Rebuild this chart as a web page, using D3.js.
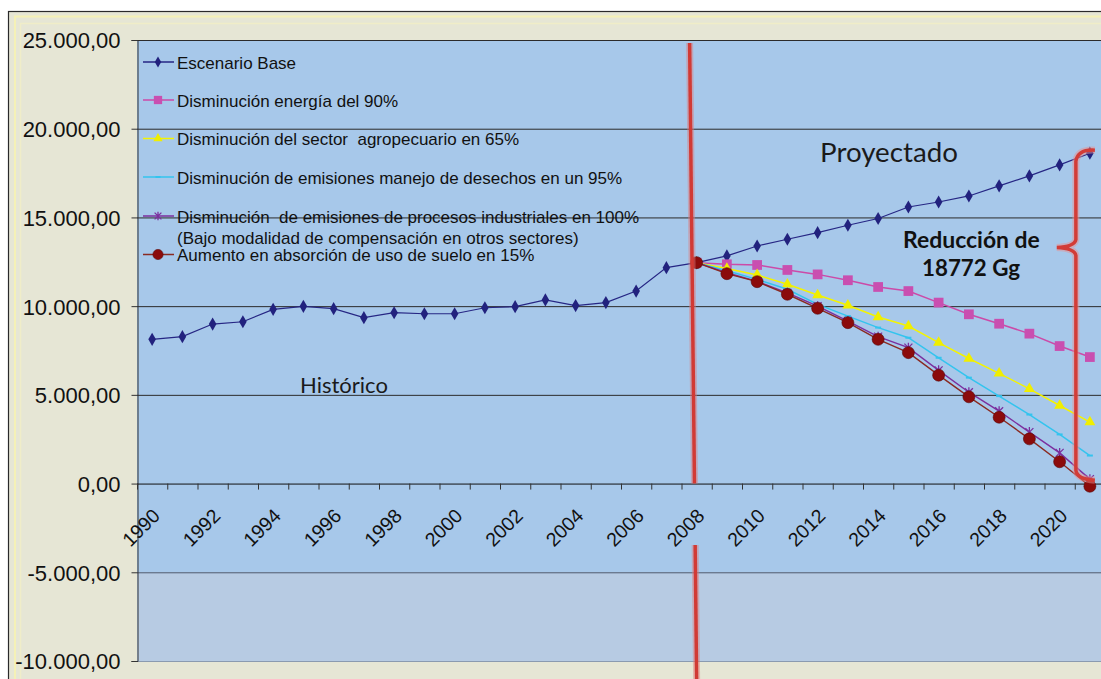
<!DOCTYPE html>
<html><head><meta charset="utf-8">
<script src="https://cdn.jsdelivr.net/npm/d3@7"></script>
<style>body{margin:0;background:#fff}svg{display:block}text{white-space:pre}</style>
</head><body><svg id="c" width="1101" height="679"></svg>
<script>
// ---------- DATA ----------
const years = [1990,1991,1992,1993,1994,1995,1996,1997,1998,1999,2000,2001,2002,2003,2004,2005,2006,2007,2008,2009,2010,2011,2012,2013,2014,2015,2016,2017,2018,2019,2020,2021];
const projYears = [2008,2009,2010,2011,2012,2013,2014,2015,2016,2017,2018,2019,2020,2021];
const escenarioBase = [8130,8280,8990,9120,9820,9990,9860,9350,9630,9570,9570,9910,9970,10350,10030,10200,10850,12170,12450,12830,13390,13770,14140,14560,14940,15590,15870,16210,16780,17340,17960,18620];
const energia90 = [12450,12360,12320,12040,11790,11460,11080,10850,10200,9540,9010,8450,7750,7130];
const agropecuario65 = [12450,12120,11760,11230,10630,10050,9390,8880,7940,7050,6210,5340,4400,3460];
const desechos95 = [12450,12000,11510,10950,10100,9440,8790,8220,7090,5970,4930,3890,2770,1580];
const industriales100 = [12450,11880,11400,10750,10000,9160,8280,7660,6380,5150,4080,2900,1730,250];
const absorcionSuelo15 = [12450,11830,11380,10670,9880,9070,8130,7380,6110,4890,3740,2520,1230,-150];
const yTicks = [-10000,-5000,0,5000,10000,15000,20000,25000];
const xTickLabels = [1990,1992,1994,1996,1998,2000,2002,2004,2006,2008,2010,2012,2014,2016,2018,2020];
const legendLabels = [
  ["Escenario Base"],
  ["Disminución energía del 90%"],
  ["Disminución del sector  agropecuario en 65%"],
  ["Disminución de emisiones manejo de desechos en un 95%"],
  ["Disminución  de emisiones de procesos industriales en 100%","(Bajo modalidad de compensación en otros sectores)"],
  ["Aumento en absorción de uso de suelo en 15%"]
];
const labelHistorico = "Histórico";
const labelProyectado = "Proyectado";
const labelReduccion = ["Reducción de","18772 Gg"];

// ---------- SETUP ----------
const svg = d3.select("#c");
const W = 1101, H = 679;
const plot = {left:137, top:40, bottom:661, band:30.25};
const x = d3.scaleBand().domain(years).range([plot.left, plot.left + plot.band*years.length]).padding(0);
const xc = d => x(d) + x.bandwidth()/2;
const y = d3.scaleLinear().domain([-10000,25000]).range([plot.bottom, plot.top]);
const loc = d3.formatLocale({decimal:",", thousands:".", grouping:[3], currency:["",""], minus:"-"});
const fmt = loc.format(",.2f");
const FONT = "'Liberation Sans', Arial, sans-serif";
const CAL = "Lato, 'Open Sans', sans-serif";

// outer chart area
svg.append("rect").attr("x",0).attr("y",0).attr("width",W).attr("height",H).attr("fill","#fff");
svg.append("rect").attr("x",8.5).attr("y",11.5).attr("width",W+20).attr("height",H+20)
  .attr("fill","#e6e6d5").attr("stroke","#2a2a2a").attr("stroke-width",1.2);
svg.append("rect").attr("x",15).attr("y",16.5).attr("width",W+20).attr("height",H+20)
  .attr("fill","none").attr("stroke","#f5f1b6").attr("stroke-width",2);
svg.append("rect").attr("x",20.5).attr("y",23.5).attr("width",W+20).attr("height",H+20)
  .attr("fill","none").attr("stroke","#f0edc8").attr("stroke-width",1.5);

// plot background
const pRight = plot.left + plot.band*years.length;
svg.append("rect").attr("x",plot.left).attr("y",y(25000)).attr("width",pRight-plot.left).attr("height",y(-5000)-y(25000)).attr("fill","#a7c8ea");
svg.append("rect").attr("x",plot.left).attr("y",y(-5000)).attr("width",pRight-plot.left).attr("height",y(-10000)-y(-5000)).attr("fill","#b7cbe3");

// gridlines
svg.append("g").selectAll("line").data(yTicks.filter(v=>v!==0)).join("line")
  .attr("x1",plot.left).attr("x2",pRight).attr("y1",d=>y(d)+0.5).attr("y2",d=>y(d)+0.5)
  .attr("stroke",d=>d===-5000?"#4a5870":(d===-10000?"#8a9ab0":"#2b2b2b")).attr("stroke-width",1);

// y axis
const yAxis = svg.append("g").attr("transform",`translate(${plot.left+0.5},0)`)
  .call(d3.axisLeft(y).tickValues(yTicks).tickFormat(fmt).tickSize(6).tickPadding(11));
yAxis.select(".domain").attr("stroke","#333");
yAxis.selectAll(".tick line").attr("stroke","#333");
yAxis.selectAll("text").attr("font-family",FONT).attr("font-size",22).attr("fill","#111").attr("dy","0.36em");

// x axis at y=0
const xAxis = svg.append("g").attr("transform",`translate(0,${y(0)+0.5})`)
  .call(d3.axisBottom(x).tickValues(xTickLabels).tickSize(0).tickPadding(0));
xAxis.select(".domain").attr("stroke","#111").attr("d",`M${plot.left},0H${pRight}`);
xAxis.selectAll(".tick text").attr("font-family",FONT).attr("font-size",19.5).attr("fill","#111")
  .attr("text-anchor","end").attr("dy",0).attr("y",0)
  .attr("transform","translate(9,33) rotate(-45)");
// boundary tick marks
svg.append("g").selectAll("line").data(years).join("line")
  .attr("x1",d=>x(d)+0.5).attr("x2",d=>x(d)+0.5).attr("y1",y(0)).attr("y2",y(0)+6)
  .attr("stroke","#333").attr("stroke-width",1);

// ---------- SERIES ----------
const series = [
  {name:legendLabels[0], xs:years, vals:escenarioBase, color:"#262684", mcolor:"#22227e", marker:"diamond", w:1.2},
  {name:legendLabels[1], xs:projYears, vals:energia90, color:"#cc4aa8", mcolor:"#c94fb0", marker:"square", w:1.5},
  {name:legendLabels[2], xs:projYears, vals:agropecuario65, color:"#f4f400", mcolor:"#f0ee00", marker:"triangle", w:1.5},
  {name:legendLabels[3], xs:projYears, vals:desechos95, color:"#33c4ee", mcolor:"#33c4ee", marker:"dash", w:1.5},
  {name:legendLabels[4], xs:projYears, vals:industriales100, color:"#7b2f9e", mcolor:"#7b2f9e", marker:"star", w:1.4},
  {name:legendLabels[5], xs:projYears, vals:absorcionSuelo15, color:"#8a2a22", mcolor:"#8b0b0b", marker:"circle", w:1.4}
];

function drawMarker(g, type, color, scale){
  scale = scale||1;
  if(type==="diamond") g.append("path").attr("d",d3.symbol(d3.symbolDiamond, 50*scale*scale)()).attr("fill",color);
  else if(type==="square") g.append("path").attr("d",d3.symbol(d3.symbolSquare, 95*scale*scale)()).attr("fill",color);
  else if(type==="triangle") g.append("path").attr("d",d3.symbol(d3.symbolTriangle, 52*scale*scale)()).attr("fill",color);
  else if(type==="dash") g.append("path").attr("d",`M${-3*scale},0H${3*scale}`).attr("stroke",color).attr("stroke-width",2);
  else if(type==="star") g.append("path").attr("d",`M${-4*scale},${-4*scale}L${4*scale},${4*scale}M${-4*scale},${4*scale}L${4*scale},${-4*scale}M0,${-5*scale}V${5*scale}`).attr("stroke",color).attr("stroke-width",1.3).attr("fill","none");
  else if(type==="circle") g.append("circle").attr("r",6*scale).attr("fill",color).attr("stroke","#5a0606").attr("stroke-width",0.6);
}

const line = d3.line().x(d=>xc(d[0])).y(d=>y(d[1]));
series.forEach(s=>{
  const pts = s.xs.map((yr,i)=>[yr, s.vals[i]]);
  const g = svg.append("g");
  g.append("path").attr("d",line(pts)).attr("fill","none").attr("stroke",s.color).attr("stroke-width",s.w);
  pts.forEach(p=>{
    const mg = g.append("g").attr("transform",`translate(${xc(p[0])},${y(p[1])})`);
    drawMarker(mg, s.marker, s.mcolor, 1);
  });
});

// ---------- ANNOTATIONS ----------
// vertical red divider at 2008 (hidden behind the tick-label band)
const divX = xc(2008);
const divTop = y(25000)+3, slope = 7/(H-divTop);
const xAt = yy => divX-7 + (yy-divTop)*slope;
[[divTop, y(0)], [545, H]].forEach(([a,b])=>{
  svg.append("line").attr("x1",xAt(a)).attr("y1",a).attr("x2",xAt(b)).attr("y2",b)
    .attr("stroke","#e07a7a").attr("stroke-width",7).attr("opacity",0.45);
  svg.append("line").attr("x1",xAt(a)).attr("y1",a).attr("x2",xAt(b)).attr("y2",b)
    .attr("stroke","#d13a35").attr("stroke-width",3.5);
});

// brace
const bx = xc(2021) - 14;
const bTop = y(escenarioBase[escenarioBase.length-1]);
const bBot = y(absorcionSuelo15[absorcionSuelo15.length-1]) - 10;
const bMid = y(13300);
const bracePath = `M${bx+19},${bTop-3} Q${bx+2},${bTop-4} ${bx},${bTop+8} L${bx},${bMid-8} Q${bx-1},${bMid-1} ${bx-19},${bMid} Q${bx-1},${bMid+1} ${bx},${bMid+8} L${bx},${bBot-6} Q${bx+1},${bBot+3} ${bx+19},${bBot+4}`;
svg.append("path").attr("d",bracePath).attr("fill","none").attr("stroke","#e99090").attr("stroke-width",7).attr("opacity",0.5);
svg.append("path").attr("d",bracePath).attr("fill","none").attr("stroke","#d23c37").attr("stroke-width",3.5);

function fit(sel, width){
  const len = sel.node().getComputedTextLength();
  const fs = parseFloat(sel.attr("font-size"));
  sel.attr("font-size", fs*width/len);
}
fit(svg.append("text").attr("x",820).attr("y",162).attr("font-family",CAL).attr("font-size",24).attr("fill","#1a1a1a").text(labelProyectado),138);
fit(svg.append("text").attr("x",300).attr("y",393).attr("font-family",CAL).attr("font-size",22).attr("fill","#1a1a1a").text(labelHistorico),88);
fit(svg.append("text").attr("x",903).attr("y",248).attr("font-family",CAL).attr("font-weight","bold").attr("font-size",22).attr("fill","#111").text(labelReduccion[0]),137);
fit(svg.append("text").attr("x",922).attr("y",276).attr("font-family",CAL).attr("font-weight","bold").attr("font-size",22).attr("fill","#111").text(labelReduccion[1]),98);

// ---------- LEGEND ----------
const legY = [62,100,138.5,177,216,254.5];
const lg = svg.append("g");
series.forEach((s,i)=>{
  const cy = legY[i];
  lg.append("line").attr("x1",143).attr("x2",174).attr("y1",cy).attr("y2",cy).attr("stroke",s.color).attr("stroke-width",1.5);
  const mg = lg.append("g").attr("transform",`translate(158,${cy})`);
  drawMarker(mg, s.marker, s.mcolor, 0.85);
  s.name.forEach((t,j)=>{
    lg.append("text").attr("x",177).attr("y",cy+6.5+j*21).attr("font-family",FONT).attr("font-size",17).attr("fill","#111").text(t);
  });
});
</script></body></html>
